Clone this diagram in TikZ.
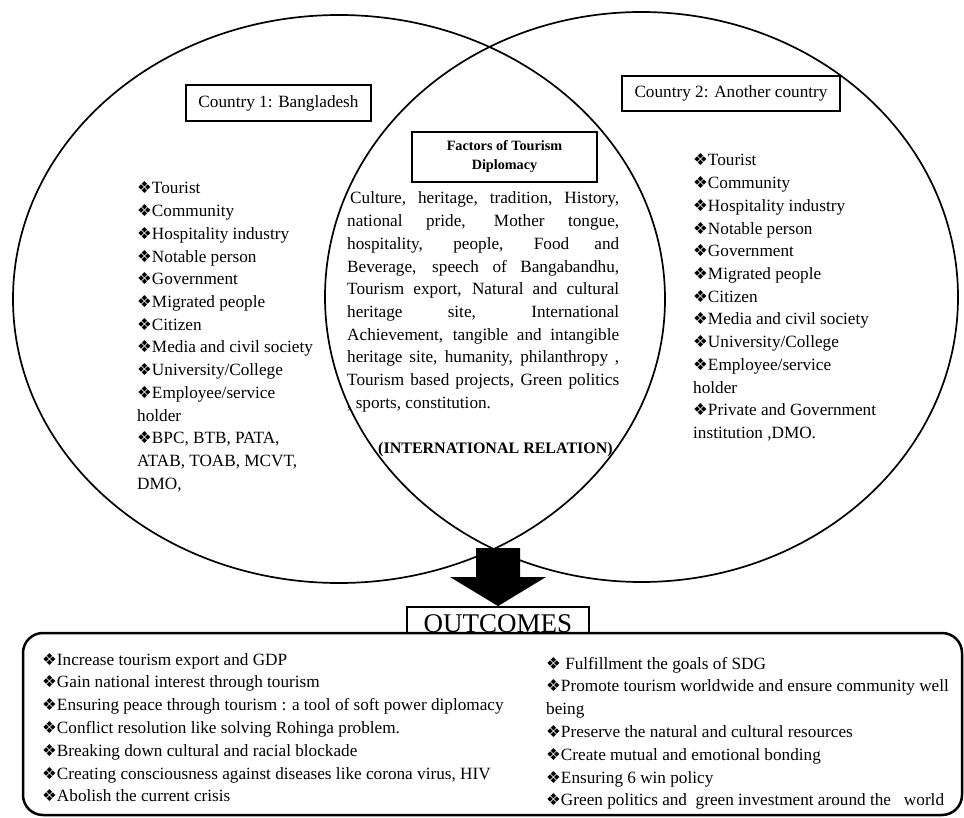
\documentclass[tikz,border=0pt]{standalone}
\usepackage{fontspec}
\setmainfont{Liberation Serif}
\newfontfamily\symfont{DejaVu Sans}
\usepackage{tikz}
\usetikzlibrary{calc}
\newcommand{\dia}{{\symfont\fontsize{16.5}{16.5}\selectfont ❖}}
\hbadness=10000

\begin{document}
\begin{tikzpicture}[x=1pt, y=-1pt,
    venn/.style={line width=1.7pt},
    txt/.style={font=\fontsize{17.2}{22.7}\selectfont, inner sep=0pt, anchor=base west},
    cbox/.style={draw, line width=2.4pt, inner sep=0pt, font=\fontsize{17.2}{20}\selectfont}]
    \useasboundingbox (0,0) rectangle (964,818);

    %%  Draw Venn with Country Labels
    % Draw Circles
    \draw [venn] (339,299) ellipse [x radius=326, y radius=284];
    \draw [venn] (641.5,297) ellipse [x radius=316.5, y radius=285];

    % Country boxes
    \node [cbox, minimum width=185pt, minimum height=36pt] (cone) at (278.5,103) {Country 1: Bangladesh};
    \node [cbox, minimum width=218pt, minimum height=35pt] (ctwo) at (731,93.5) {Country 2: Another country};
    \node [cbox, minimum width=185pt, minimum height=50pt, align=center,
           font=\bfseries\fontsize{14.2}{19}\selectfont] (factors) at (504.5,157) {Factors of Tourism\\ Diplomacy};

    % Factors in the middle
    \node [txt, text width=272pt, align=justify] (middle) at (347,204) {\noindent\hspace{3pt}Culture, heritage, tradition, History,\linebreak
        national pride, Mother tongue,\linebreak
        hospitality, people, Food and\linebreak
        Beverage, speech of Bangabandhu,\linebreak
        Tourism export, Natural and cultural\linebreak
        heritage site, International\linebreak
        Achievement, tangible and intangible\linebreak
        heritage site, humanity, philanthropy ,\linebreak
        Tourism based projects, Green politics\linebreak
        \hspace{3pt}, sports, constitution.};
    \node [txt, anchor=base, font=\bfseries\fontsize{16}{20}\selectfont] (relation) at (495.5,453) {(INTERNATIONAL RELATION)};

    % Country 1 stakeholders
    \foreach \entry [count=\i] in {\dia Tourist, \dia Community, \dia Hospitality industry,
        \dia Notable person, \dia Government, \dia Migrated people, \dia Citizen,
        \dia Media and civil society, \dia University/College, \dia Employee/service, holder,
        {\dia BPC, BTB, PATA,}, {ATAB, TOAB, MCVT,}, {DMO,}}
        \node [txt] (lone\i) at (137,{194+22.7*(\i-1)}) {\entry};

    % Country 2 stakeholders
    \foreach \entry [count=\i] in {\dia Tourist, \dia Community, \dia Hospitality industry,
        \dia Notable person, \dia Government, \dia Migrated people, \dia Citizen,
        \dia Media and civil society, \dia University/College, \dia Employee/service, holder,
        \dia Private and Government, {institution ,DMO.}}
        \node [txt] (ltwo\i) at (693,{166+22.7*(\i-1)}) {\entry};

    %%  Draw Outcomes
    \node [draw, line width=2.5pt, rounded corners=20pt, minimum width=939pt, minimum height=182pt] (outbox) at (492.5,724) {};
    \node [draw, line width=1.8pt, inner sep=0pt, minimum width=182pt, minimum height=26pt,
           text height=24pt, text depth=0pt, font=\fontsize{27}{27}\selectfont] (outc) at (498,620) {OUTCOMES};
    % Big arrow
    \coordinate (meet) at (498,548);
    \fill ($(meet)+(-22,0)$) -- ($(meet)+(22,0)$) -- ($(meet)+(22,29)$) -- ($(meet)+(48,29)$)
        -- (outc.north) -- ($(meet)+(-48,29)$) -- ($(meet)+(-22,29)$) -- cycle;

    % Outcome items, left
    \foreach \entry [count=\i] in {Increase tourism export and GDP,
        Gain national interest through tourism,
        Ensuring peace through tourism : a tool of soft power diplomacy,
        Conflict resolution like solving Rohinga problem.,
        Breaking down cultural and racial blockade,
        {Creating consciousness against diseases like corona virus, HIV},
        Abolish the current crisis}
        \node [txt] (oleft\i) at (42,{665+22.8*(\i-1)}) {\dia\entry};
    % Outcome items, right
    \foreach \entry [count=\i] in {\dia\ Fulfillment the goals of SDG,
        \dia Promote tourism worldwide and ensure community well, being,
        \dia Preserve the natural and cultural resources,
        \dia Create mutual and emotional bonding,
        \dia Ensuring 6 win policy,
        \dia Green politics and~ green investment around the~~ world}
        \node [txt] (oright\i) at (546,{669+22.8*(\i-1)}) {\entry};
\end{tikzpicture}
\end{document}
